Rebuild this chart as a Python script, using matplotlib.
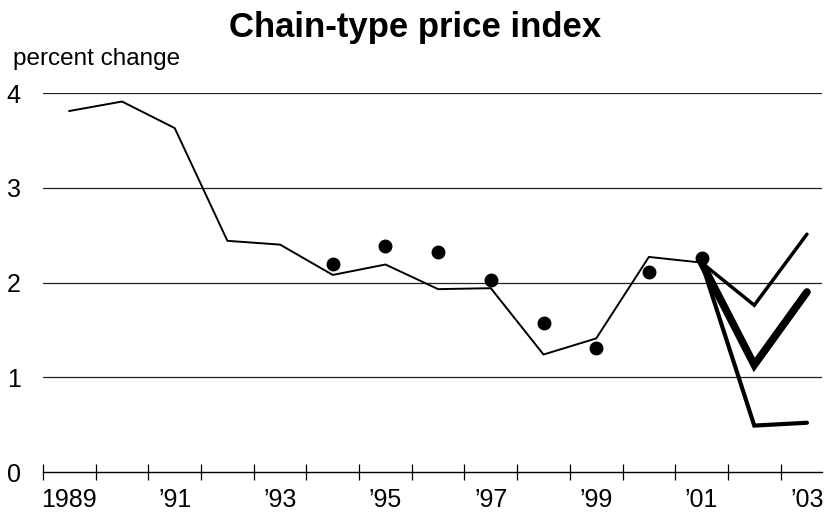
import matplotlib
matplotlib.use("Agg")
import matplotlib.pyplot as plt
import numpy as np

plt.rcParams["font.family"] = ["Liberation Sans", "DejaVu Sans"]

# DATA
years = list(range(1989, 2004))
year_labels = ["1989", "\u201991", "\u201993", "\u201995", "\u201997", "\u201999", "\u201901", "\u201903"]
actual_years = list(range(1989, 2002))
actual = [3.81, 3.91, 3.63, 2.44, 2.40, 2.08, 2.19, 1.93, 1.94, 1.24, 1.41, 2.27, 2.21]
dot_years = [1994, 1995, 1996, 1997, 1998, 1999, 2000, 2001]
dots = [2.20, 2.39, 2.32, 2.03, 1.57, 1.31, 2.11, 2.26]
proj_years = [2001, 2002, 2003]
proj_high = [2.21, 1.76, 2.51]
proj_mid = [2.21, 1.13, 1.90]
proj_low = [2.21, 0.49, 0.52]


def xpos(yrs):
    # centre each year inside its tick interval
    return [y - 1989 + 0.5 for y in yrs]


fig = plt.figure(figsize=(8.3, 5.24), dpi=100)
ax = fig.add_axes([0.0518, 0.0992, 0.9382, 0.7233])

for v in [1, 2, 3, 4]:
    ax.axhline(v, color="#222222", lw=0.9, zorder=1)

ax.plot(xpos(actual_years), actual, color="black", lw=1.4, zorder=3)
ax.plot(xpos(proj_years), proj_low, color="black", lw=3.0, zorder=3,
        solid_capstyle="round", solid_joinstyle="miter")
ax.plot(xpos(proj_years), proj_mid, color="black", lw=5.5, zorder=3,
        solid_capstyle="round", solid_joinstyle="miter")
ax.plot(xpos(proj_years), proj_high, color="black", lw=2.5, zorder=3,
        solid_capstyle="round", solid_joinstyle="miter")
ax.plot(xpos(dot_years), dots, "o", color="black", ms=9, zorder=4)

ax.set_xlim(0, 14.78)
ax.set_ylim(0, 4)

for s in ["top", "right", "left"]:
    ax.spines[s].set_visible(False)
ax.spines["bottom"].set_linewidth(1.0)

ax.set_xticks(np.arange(0, 15))
ax.set_xticklabels([])
ax.tick_params(axis="x", which="major", direction="inout", length=11.5, width=0.9)
ax.set_xticks(xpos(years[::2]), minor=True)
ax.set_xticklabels(year_labels, minor=True)
ax.tick_params(axis="x", which="minor", length=0, pad=11.5, labelsize=18)

ax.set_yticks([0, 1, 2, 3, 4])
ax.set_yticklabels(["0", "1", "2", "3", "4"])
ax.tick_params(axis="y", length=0, pad=16, labelsize=18)

fig.text(0.5, 0.947, "Chain-type price index", ha="center", va="center",
         fontsize=25, fontweight="bold")
fig.text(0.016, 0.888, "percent change", ha="left", va="center", fontsize=17.5)

fig.savefig("out.png", dpi=100)
